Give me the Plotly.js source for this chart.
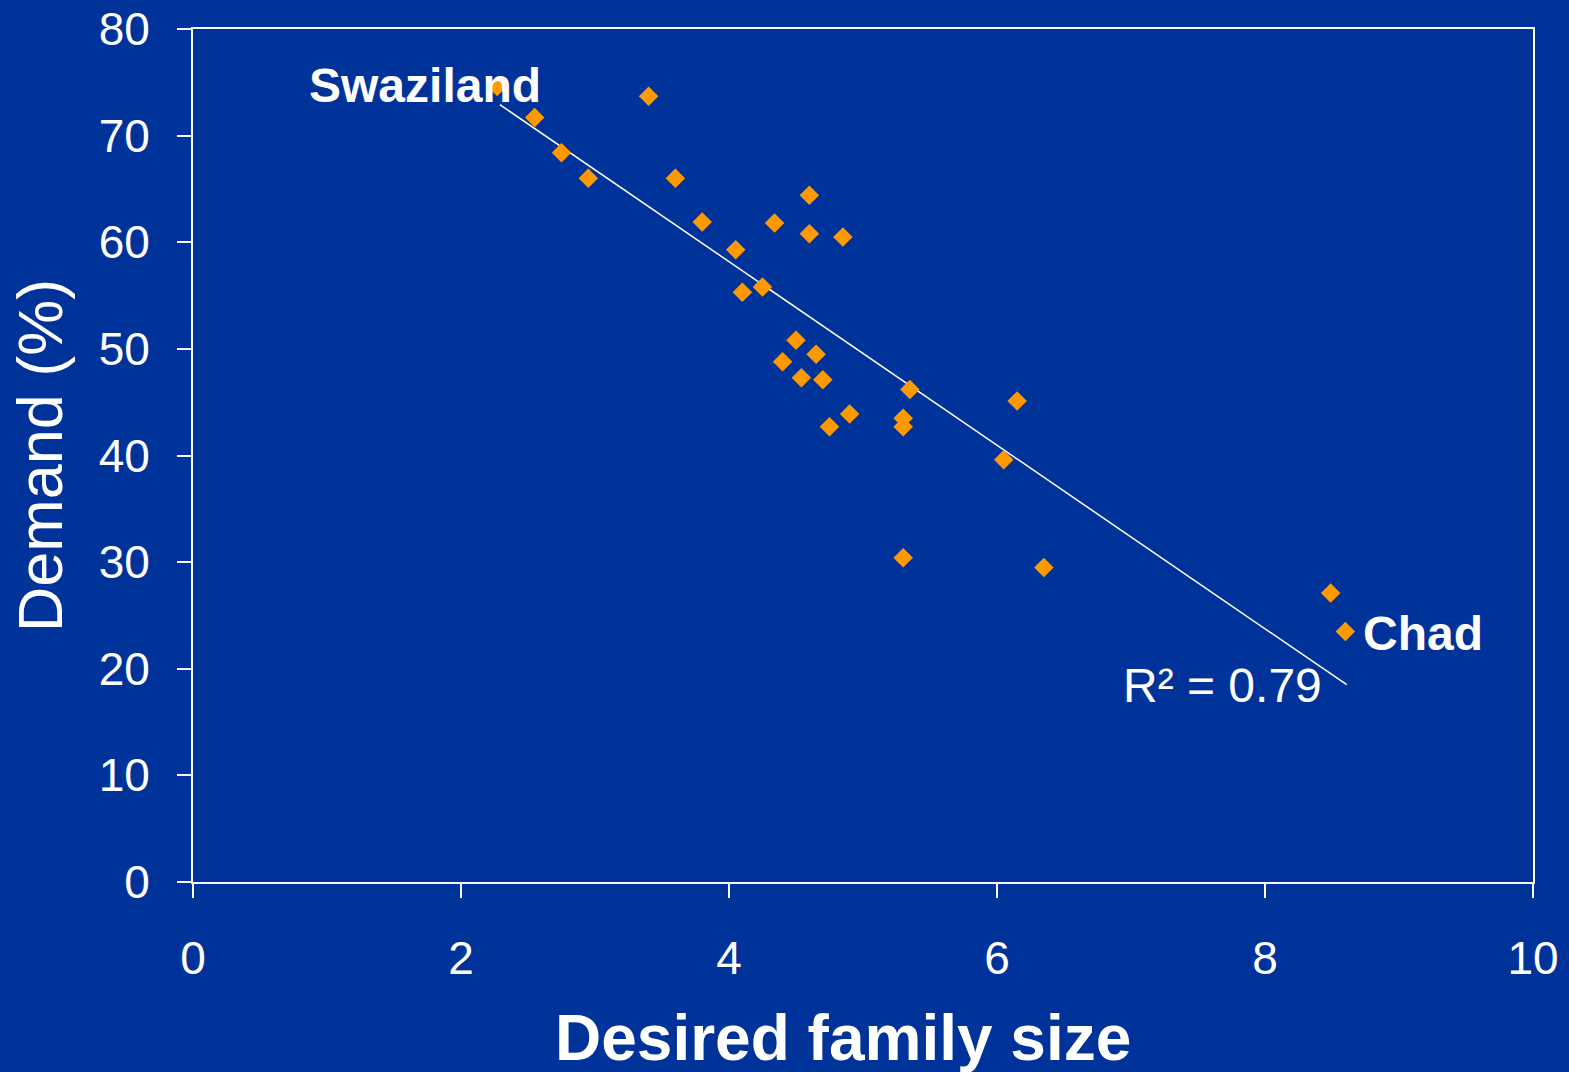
<!DOCTYPE html>
<html>
<head>
<meta charset="utf-8">
<script src="https://cdn.plot.ly/plotly-3.0.1.min.js"></script>
<style>html,body{margin:0;padding:0;background:#003399;}#chart{width:1569px;height:1072px;}</style>
</head>
<body>
<div id="chart"></div>
<script>
// Desired family size (x) vs demand for family planning (%) (y)
const familySize = [2.27, 2.55, 2.75, 2.95, 3.40, 3.60, 3.80, 4.05, 4.10, 4.25, 4.34, 4.60, 4.60, 4.85,
                    4.50, 4.65, 4.40, 4.54, 4.70, 4.90, 4.75, 5.35, 5.30, 5.30, 6.15, 6.05, 5.30, 6.35, 8.49, 8.60];
const demand     = [74.6, 71.7, 68.4, 66.0, 73.7, 66.0, 61.9, 59.3, 55.3, 55.8, 61.8, 64.4, 60.8, 60.5,
                    50.8, 49.5, 48.8, 47.3, 47.1, 43.9, 42.7, 46.2, 43.5, 42.7, 45.1, 39.6, 30.4, 29.5, 27.1, 23.5];
// Linear trend line end points
const trendX = [2.29, 8.61];
const trendY = [72.9, 18.5];
const xTicks = [0, 2, 4, 6, 8, 10];
const yTicks = [0, 10, 20, 30, 40, 50, 60, 70, 80];
const labels = [
  {text: 'Swaziland', x: 2.61, y: 74.7, anchor: 'right'},
  {text: 'Chad', x: 8.72, y: 23.3, anchor: 'left'}
];
const rSquared = {text: 'R² = 0.79', x: 8.44, y: 18.4};
const xTitle = 'Desired family size';
const yTitle = 'Demand (%)';

const FONT = 'Arial, "Liberation Sans", sans-serif';
const BG = '#003399';

const traces = [
  {
    x: trendX, y: trendY, type: 'scatter', mode: 'lines',
    line: {color: '#ffffff', width: 1.5}, hoverinfo: 'skip', showlegend: false
  },
  {
    x: familySize, y: demand, type: 'scatter', mode: 'markers',
    marker: {symbol: 'diamond', size: 15, color: '#ff9900', line: {width: 0}},
    showlegend: false
  }
];

const annotations = labels.map(l => ({
  text: '<b>' + l.text + '</b>', x: l.x, y: l.y, xref: 'x', yref: 'y',
  xanchor: l.anchor, yanchor: 'middle', showarrow: false,
  font: {family: FONT, size: 48, color: '#ffffff'}
}));
annotations.push({
  text: rSquared.text, x: rSquared.x, y: rSquared.y, xref: 'x', yref: 'y',
  xanchor: 'right', yanchor: 'middle', showarrow: false,
  font: {family: FONT, size: 48, color: '#ffffff'}
});
// x-axis title (placed slightly left of centre, as in the original slide)
annotations.push({
  text: '<b>' + xTitle + '</b>', x: 0.485, y: -0.183, xref: 'paper', yref: 'paper',
  xanchor: 'center', yanchor: 'middle', showarrow: false,
  font: {family: FONT, size: 64, color: '#ffffff'}
});

const layout = {
  width: 1569, height: 1072,
  paper_bgcolor: BG, plot_bgcolor: BG,
  margin: {l: 193, r: 36, t: 29, b: 190},
  font: {family: FONT, color: '#ffffff'},
  showlegend: false,
  xaxis: {
    range: [0, 10], tickvals: xTicks, ticktext: xTicks.map(String),
    showgrid: false, zeroline: false,
    showline: true, linecolor: '#ffffff', linewidth: 2, mirror: true,
    ticks: 'outside', ticklen: 14, tickwidth: 2, tickcolor: '#ffffff',
    tickfont: {family: FONT, size: 46, color: '#ffffff'},
    ticklabelstandoff: 21,
    automargin: false, fixedrange: true
  },
  yaxis: {
    range: [0, 80], tickvals: yTicks, ticktext: yTicks.map(String),
    showgrid: false, zeroline: false,
    showline: true, linecolor: '#ffffff', linewidth: 2, mirror: true,
    ticks: 'outside', ticklen: 14, tickwidth: 2, tickcolor: '#ffffff',
    tickfont: {family: FONT, size: 46, color: '#ffffff'},
    ticklabelstandoff: 18,
    title: {text: yTitle, font: {family: FONT, size: 63, color: '#ffffff'}, standoff: 16},
    automargin: false, fixedrange: true
  },
  annotations: annotations
};

Plotly.newPlot('chart', traces, layout, {displayModeBar: false, staticPlot: true});
</script>
</body>
</html>
